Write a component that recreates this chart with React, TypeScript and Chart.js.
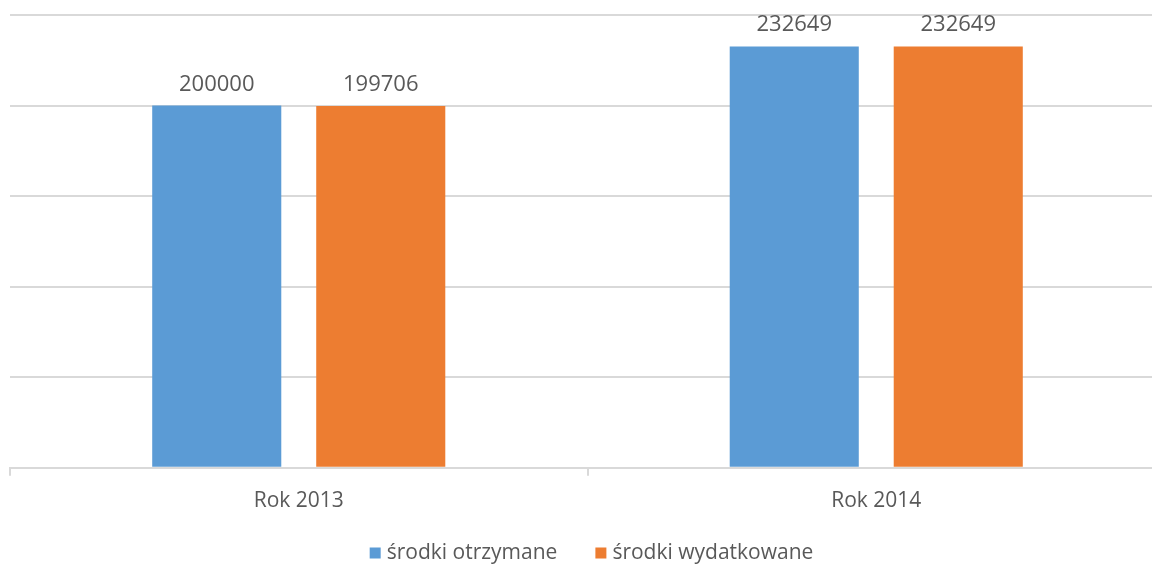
import { useRef, useEffect } from 'react';
import { Chart, ChartConfiguration, Plugin, registerables } from 'chart.js';

Chart.register(...registerables);

const categories = ['Rok 2013', 'Rok 2014'];
const received = [200000, 232649];
const spent = [199706, 232649];
const seriesNames = ['środki otrzymane', 'środki wydatkowane'];
const seriesColors = ['#5b9bd5', '#ed7d31'];

const FONT = "'Open Sans', sans-serif";
const TEXT = '#595959';
const GRID = '#d9d9d9';

// draws the value above each bar
const valueLabels: Plugin<'bar'> = {
    id: 'valueLabels',
    afterDatasetsDraw(chart) {
        const ctx = chart.ctx;
        ctx.save();
        ctx.font = `22px ${FONT}`;
        ctx.fillStyle = TEXT;
        ctx.textAlign = 'center';
        ctx.textBaseline = 'alphabetic';
        chart.data.datasets.forEach((ds, i) => {
            const meta = chart.getDatasetMeta(i);
            meta.data.forEach((bar, j) => {
                ctx.fillText(String(ds.data[j]), bar.x, bar.y - 15);
            });
        });
        ctx.restore();
    },
};

// legend drawn by hand so the item gap and the vertical spot can be set freely
const bottomLegend: Plugin<'bar'> = {
    id: 'bottomLegend',
    afterDraw(chart) {
        const ctx = chart.ctx;
        const box = 11;
        const gap = 6;
        const itemGap = 38;
        const y = 553;
        ctx.save();
        ctx.font = `21px ${FONT}`;
        const widths = chart.data.datasets.map((ds) => box + gap + ctx.measureText(String(ds.label)).width);
        const total = widths.reduce((a, b) => a + b, 0) + itemGap * (widths.length - 1);
        let x = (chart.chartArea.left + chart.chartArea.right) / 2 - total / 2 + 4;
        ctx.textBaseline = 'middle';
        ctx.textAlign = 'left';
        chart.data.datasets.forEach((ds, i) => {
            ctx.fillStyle = String(ds.backgroundColor);
            ctx.fillRect(x, y - box / 2, box, box);
            ctx.fillStyle = TEXT;
            ctx.fillText(String(ds.label), x + box + gap, y);
            x += widths[i] + itemGap;
        });
        ctx.restore();
    },
};

const App = () => {
    const chartRef = useRef<HTMLCanvasElement | null>(null);
    const chartInstance = useRef<Chart | null>(null);

    useEffect(() => {
        if (!chartRef.current) return;
        const ctx = chartRef.current.getContext('2d');
        if (!ctx) return;

        const config: ChartConfiguration<'bar'> = {
            type: 'bar',
            data: {
                labels: categories,
                datasets: [
                    {
                        label: seriesNames[0],
                        data: received,
                        backgroundColor: seriesColors[0],
                        categoryPercentage: 0.568,
                        barPercentage: 0.787,
                    },
                    {
                        label: seriesNames[1],
                        data: spent,
                        backgroundColor: seriesColors[1],
                        categoryPercentage: 0.568,
                        barPercentage: 0.787,
                    },
                ],
            },
            options: {
                animation: false,
                responsive: false,
                maintainAspectRatio: false,
                layout: { padding: { left: 10, top: 15, right: 0, bottom: 38 } },
                scales: {
                    x: {
                        grid: {
                            display: true,
                            drawOnChartArea: false,
                            drawTicks: true,
                            tickLength: 8,
                            color: GRID,
                            lineWidth: 2,
                            offset: true,
                        },
                        border: { display: true, color: GRID, width: 2 },
                        ticks: {
                            color: TEXT,
                            font: { family: FONT, size: 21 },
                            padding: 13,
                        },
                    },
                    y: {
                        min: 0,
                        max: 250000,
                        ticks: { display: false, stepSize: 50000 },
                        grid: { color: GRID, lineWidth: 2, drawTicks: false },
                        border: { display: false },
                    },
                },
                plugins: {
                    legend: { display: false },
                    tooltip: { enabled: false },
                },
            },
            plugins: [valueLabels, bottomLegend],
        };

        if (chartInstance.current) {
            chartInstance.current.destroy();
        }
        chartInstance.current = new Chart(ctx, config);

        return () => {
            if (chartInstance.current) {
                chartInstance.current.destroy();
                chartInstance.current = null;
            }
        };
    }, []);

    return (
        <div
            style={{
                position: 'fixed',
                left: 0,
                top: 0,
                width: 1152,
                height: 565,
                overflow: 'hidden',
                background: '#fff',
            }}
        >
            <canvas ref={chartRef} width={1165} height={565} style={{ display: 'block' }} />
        </div>
    );
};

export default App;
